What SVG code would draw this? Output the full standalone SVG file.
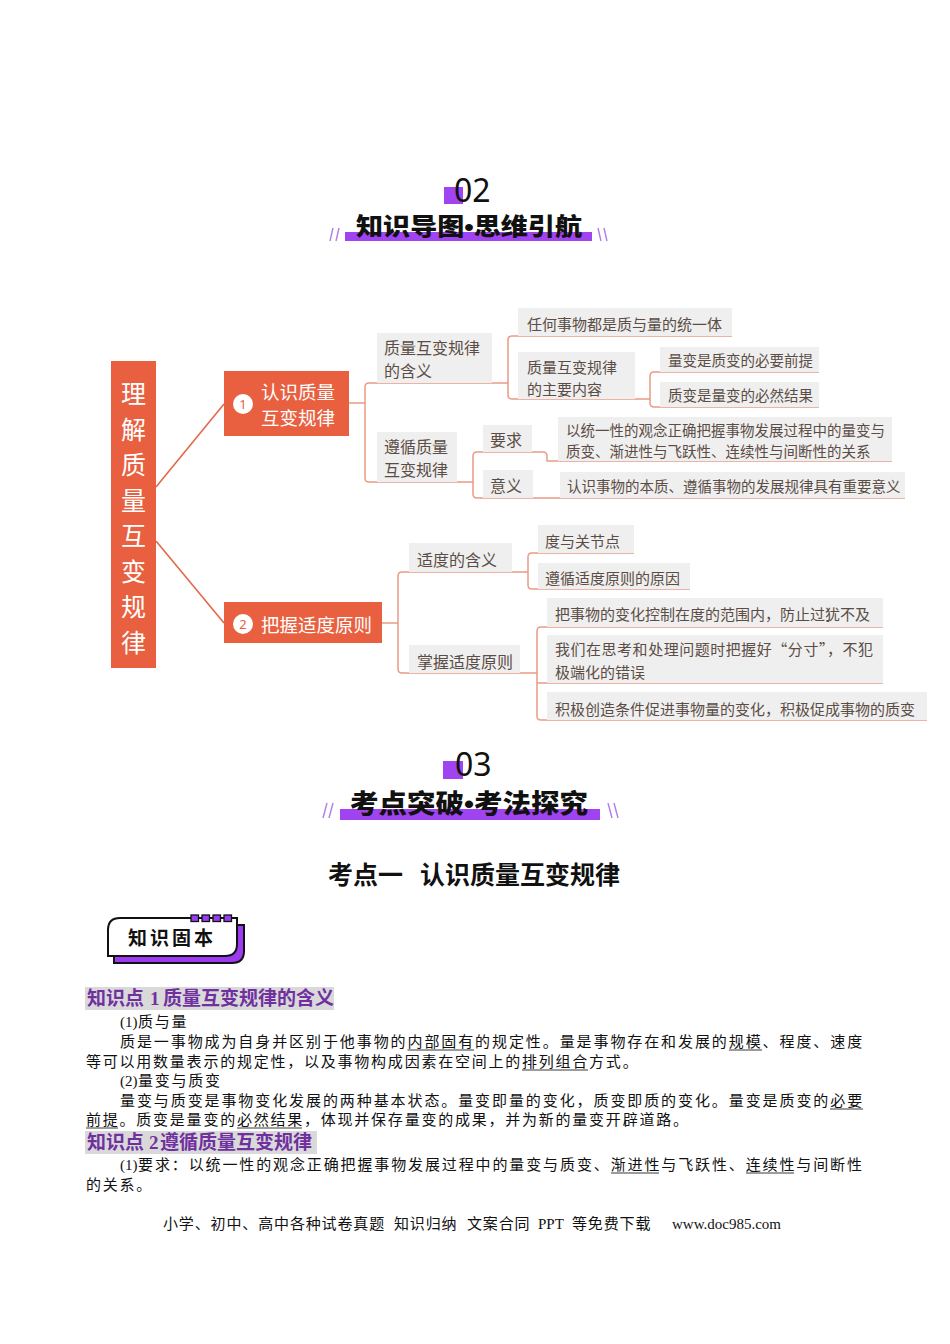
<svg xmlns="http://www.w3.org/2000/svg" width="950" height="1344" viewBox="0 0 950 1344">
<style>
.bg{fill:#ffffff}
.root{fill:#E8603F}
.n1{fill:#E8603F}
.circ{fill:#ffffff}
.cnum{font-family:"Noto Sans","Noto Sans CJK SC",sans-serif;font-size:13px;fill:#E8603F;text-anchor:middle;dominant-baseline:central}
.wt{font-family:"Noto Sans CJK SC",sans-serif;fill:#ffffff;dominant-baseline:central}
.box{fill:#EFEFEF}
.t2{font-family:"Noto Sans CJK SC",sans-serif;font-size:16px;fill:#5B4D45;dominant-baseline:central}
.t3{font-family:"Noto Sans CJK SC",sans-serif;font-size:15px;fill:#5B4D45;dominant-baseline:central}
.t4{font-family:"Noto Sans CJK SC",sans-serif;font-size:14.5px;fill:#5B4D45;dominant-baseline:central}
.main{fill:none;stroke:#E3684B;stroke-width:1.6}
.br{fill:none;stroke:#EA9A85;stroke-width:1.5}
.purple{fill:#A043F0}
.slash{stroke:#B27DEB;stroke-width:1.4}
.num{font-family:"Noto Sans","DejaVu Sans",sans-serif;font-size:32px;fill:#111111}
.htitle{font-family:"Liberation Sans","Noto Sans CJK SC",sans-serif;font-weight:900;fill:#111111;dominant-baseline:central}
.sec{font-family:"Noto Sans CJK SC",sans-serif;font-weight:bold;font-size:25px;fill:#111111}
.kp{font-family:"Noto Sans CJK SC",sans-serif;font-weight:bold;font-size:19px;fill:#7030A0}
.kpn{font-family:"Liberation Serif",serif;font-weight:bold}
.hl{fill:#D9D9D9}
.body{font-family:"Liberation Serif","Noto Sans CJK SC",serif;font-size:15px;fill:#111111;letter-spacing:1.77px}
.just{letter-spacing:1.91px}
.lat{letter-spacing:0}
.ul{stroke:#222222;stroke-width:0.9}
.foot{font-family:"Liberation Serif","Noto Sans CJK SC",serif;font-size:15px;fill:#111111;letter-spacing:0.86px}
</style>
<rect class="bg" x="0" y="0" width="950" height="1344"/>

<!-- Section 02 header -->
<g id="header02">
  <rect class="purple" x="444" y="187" width="19" height="17"/>
  <text class="num" x="454" y="202">02</text>
  <rect class="purple" x="345" y="232" width="247" height="9"/>
  <text class="htitle" x="356" y="226" font-size="24" textLength="226" lengthAdjust="spacingAndGlyphs">知识导图•思维引航</text>
  <line class="slash" x1="333" y1="228" x2="330" y2="241"/>
  <line class="slash" x1="339" y1="228" x2="336" y2="241"/>
  <line class="slash" x1="598" y1="228" x2="601" y2="241"/>
  <line class="slash" x1="604" y1="228" x2="607" y2="241"/>
</g>

<!-- Connectors -->
<g id="connectors">
  <path class="main" d="M156,487 L224,404"/>
  <path class="main" d="M156,541 L224,623"/>
  <!-- node 1 -->
  <path class="br" d="M349,403 H365"/>
  <path class="br" d="M508,383 H369 Q365,383 365,387 V478 Q365,482 369,482 H473"/>
  <path class="br" d="M512,336 Q508,336 508,340 V395 Q508,399 512,399 H650"/>
  <path class="br" d="M512,336 H732"/>
  <path class="br" d="M819,372 H654 Q650,372 650,376 V403 Q650,407 654,407 H819"/>
  <path class="br" d="M532,452 H477 Q473,452 473,456 V494 Q473,498 477,498 H905"/>
  <path class="br" d="M532,452 H543 Q547,452 547,456 V461 H892"/>
  <!-- node 2 -->
  <path class="br" d="M382,623 H398"/>
  <path class="br" d="M512,572 H402 Q398,572 398,576 V669 Q398,673 402,673 H537"/>
  <path class="br" d="M512,572 H528"/>
  <path class="br" d="M634,553 H532 Q528,553 528,557 V585 Q528,589 532,589 H690"/>
  <path class="br" d="M883,627 H541 Q537,627 537,631 V716 Q537,720 541,720 H927"/>
  <path class="br" d="M537,683 H883"/>
</g>

<!-- Root -->
<g id="root">
  <rect class="root" x="111" y="361" width="45" height="307"/>
  <g class="wt" font-size="25" text-anchor="middle">
    <text x="133.5" y="392">理</text>
    <text x="133.5" y="428">解</text>
    <text x="133.5" y="463">质</text>
    <text x="133.5" y="499">量</text>
    <text x="133.5" y="534">互</text>
    <text x="133.5" y="570">变</text>
    <text x="133.5" y="605">规</text>
    <text x="133.5" y="641">律</text>
  </g>
</g>

<g id="node1">
  <rect class="n1" x="224" y="371" width="125" height="65"/>
  <circle class="circ" cx="243" cy="404" r="10"/>
  <text class="cnum" x="243" y="404">1</text>
  <text class="wt" font-size="18.5" x="261" y="391">认识质量</text>
  <text class="wt" font-size="18.5" x="261" y="417">互变规律</text>
</g>

<g id="node2">
  <rect class="n1" x="224" y="602" width="158" height="41"/>
  <circle class="circ" cx="243" cy="624" r="10"/>
  <text class="cnum" x="243" y="624">2</text>
  <text class="wt" font-size="18.5" x="261" y="624">把握适度原则</text>
</g>

<g id="n-hanyi">
  <rect class="box" x="377" y="333" width="115" height="50"/>
  <text class="t2" x="384" y="347">质量互变规律</text>
  <text class="t2" x="384" y="370">的含义</text>
</g>
<g id="n-renhe">
  <rect class="box" x="518" y="308" width="214" height="28"/>
  <text class="t3" x="527" y="323">任何事物都是质与量的统一体</text>
</g>
<g id="n-zhuyao">
  <rect class="box" x="518" y="352" width="117" height="47"/>
  <text class="t3" x="527" y="366">质量互变规律</text>
  <text class="t3" x="527" y="388">的主要内容</text>
</g>
<g id="n-qianti">
  <rect class="box" x="660" y="347" width="159" height="25"/>
  <text class="t4" x="668" y="359">量变是质变的必要前提</text>
</g>
<g id="n-jieguo">
  <rect class="box" x="660" y="382" width="159" height="25"/>
  <text class="t4" x="668" y="394">质变是量变的必然结果</text>
</g>
<g id="n-zunxun">
  <rect class="box" x="377" y="432" width="80" height="50"/>
  <text class="t2" x="384" y="446">遵循质量</text>
  <text class="t2" x="384" y="469">互变规律</text>
</g>
<g id="n-yaoqiu">
  <rect class="box" x="483" y="425" width="49" height="27"/>
  <text class="t2" x="490" y="439">要求</text>
</g>
<g id="n-tongyi">
  <rect class="box" x="558" y="417" width="334" height="44"/>
  <text class="t4" x="566" y="429">以统一性的观念正确把握事物发展过程中的量变与</text>
  <text class="t4" x="566" y="450">质变、渐进性与飞跃性、连续性与间断性的关系</text>
</g>
<g id="n-yiyi">
  <rect class="box" x="483" y="470" width="50" height="28"/>
  <text class="t2" x="490" y="485">意义</text>
</g>
<g id="n-benzhi">
  <rect class="box" x="560" y="472" width="345" height="26"/>
  <text class="t4" x="567" y="485">认识事物的本质、遵循事物的发展规律具有重要意义</text>
</g>

<g id="n-shidu">
  <rect class="box" x="409" y="543" width="103" height="29"/>
  <text class="t2" x="417" y="559">适度的含义</text>
</g>
<g id="n-du">
  <rect class="box" x="538" y="525" width="96" height="28"/>
  <text class="t3" x="545" y="540">度与关节点</text>
</g>
<g id="n-yuanyin">
  <rect class="box" x="538" y="563" width="152" height="26"/>
  <text class="t3" x="545" y="577">遵循适度原则的原因</text>
</g>
<g id="n-zhangwo">
  <rect class="box" x="409" y="645" width="111" height="28"/>
  <text class="t2" x="417" y="661">掌握适度原则</text>
</g>
<g id="n-kongzhi">
  <rect class="box" x="547" y="598" width="336" height="29"/>
  <text class="t3" x="555" y="613">把事物的变化控制在度的范围内，防止过犹不及</text>
</g>
<g id="n-fencun">
  <rect class="box" x="547" y="635" width="336" height="48"/>
  <text class="t3" x="555" y="648" textLength="318" lengthAdjust="spacing">我们在思考和处理问题时把握好“分寸”，不犯</text>
  <text class="t3" x="555" y="671">极端化的错误</text>
</g>
<g id="n-jiji">
  <rect class="box" x="547" y="692" width="380" height="28"/>
  <text class="t3" x="555" y="708">积极创造条件促进事物量的变化，积极促成事物的质变</text>
</g>

<!-- Section 03 header -->
<g id="header03">
  <rect class="purple" x="443" y="761" width="20" height="18"/>
  <text class="num" x="455" y="776">03</text>
  <rect class="purple" x="340" y="809" width="260" height="11"/>
  <text class="htitle" x="350" y="804" font-size="26" textLength="238" lengthAdjust="spacingAndGlyphs">考点突破•考法探究</text>
  <line class="slash" x1="327" y1="803" x2="323" y2="818"/>
  <line class="slash" x1="333" y1="803" x2="329" y2="818"/>
  <line class="slash" x1="608" y1="803" x2="612" y2="818"/>
  <line class="slash" x1="614" y1="803" x2="618" y2="818"/>
</g>

<text class="sec" y="884"><tspan x="328">考点一</tspan><tspan x="420">认识质量互变规律</tspan></text>

<!-- badge -->
<g id="badge">
  <path d="M114,937 Q114,925 126,925 H244 V951 Q244,963 232,963 H114 Z" fill="#9B3CF2" stroke="#111" stroke-width="2"/>
  <path d="M108,930 Q108,918 120,918 H237 V944 Q237,956 225,956 H108 Z" fill="#ffffff" stroke="#111" stroke-width="2"/>
  <rect x="191" y="915" width="7.5" height="6.5" fill="#9B3CF2" stroke="#111" stroke-width="1.3"/>
  <rect x="202" y="915" width="7.5" height="6.5" fill="#9B3CF2" stroke="#111" stroke-width="1.3"/>
  <rect x="213" y="915" width="7.5" height="6.5" fill="#9B3CF2" stroke="#111" stroke-width="1.3"/>
  <rect x="224" y="915" width="7.5" height="6.5" fill="#9B3CF2" stroke="#111" stroke-width="1.3"/>
  <text x="128" y="945" font-family="Noto Sans CJK SC, sans-serif" font-weight="bold" font-size="19" letter-spacing="3" fill="#111">知识固本</text>
</g>

<!-- knowledge point 1 -->
<rect class="hl" x="85" y="987" width="249" height="23"/>
<text class="kp" y="1005"><tspan x="87">知识点</tspan><tspan class="kpn" x="150">1</tspan><tspan x="163">质量互变规律的含义</tspan></text>

<text class="body" y="1027"><tspan class="lat" x="120">(1)</tspan><tspan x="138">质与量</tspan></text>
<text class="body just" x="120" y="1047">质是一事物成为自身并区别于他事物的内部固有的规定性。量是事物存在和发展的规模、程度、速度</text>
<line class="ul" x1="407.5" y1="1050" x2="474" y2="1050"/>
<line class="ul" x1="729" y1="1050" x2="762" y2="1050"/>
<text class="body" x="86" y="1067">等可以用数量表示的规定性，以及事物构成因素在空间上的排列组合方式。</text>
<line class="ul" x1="522" y1="1070" x2="588" y2="1070"/>
<text class="body" y="1086"><tspan class="lat" x="120">(2)</tspan><tspan x="138">量变与质变</tspan></text>
<text class="body just" x="120" y="1106">量变与质变是事物变化发展的两种基本状态。量变即量的变化，质变即质的变化。量变是质变的必要</text>
<line class="ul" x1="830" y1="1109" x2="863" y2="1109"/>
<text class="body" x="86" y="1125">前提。质变是量变的必然结果，体现并保存量变的成果，并为新的量变开辟道路。</text>
<line class="ul" x1="86" y1="1128" x2="118" y2="1128"/>
<line class="ul" x1="237" y1="1128" x2="302" y2="1128"/>

<!-- knowledge point 2 -->
<rect class="hl" x="85" y="1131" width="232" height="23"/>
<text class="kp" y="1149" font-size="19.5"><tspan x="87">知识点</tspan><tspan class="kpn" x="149">2</tspan><tspan x="160">遵循质量互变规律</tspan></text>

<text class="body" y="1170"><tspan class="lat" x="120">(1)</tspan><tspan x="138" letter-spacing="1.88">要求：以统一性的观念正确把握事物发展过程中的量变与质变、渐进性与飞跃性、连续性与间断性</tspan></text>
<line class="ul" x1="611" y1="1173" x2="659" y2="1173"/>
<line class="ul" x1="746" y1="1173" x2="794" y2="1173"/>
<text class="body" x="86" y="1190">的关系。</text>

<text class="foot" y="1229"><tspan x="163">小学、初中、高中各种试卷真题</tspan><tspan x="394">知识归纳</tspan><tspan x="467">文案合同</tspan><tspan class="lat" x="538">PPT</tspan><tspan x="572">等免费下载</tspan><tspan class="lat" x="672">www.doc985.com</tspan></text>
</svg>
